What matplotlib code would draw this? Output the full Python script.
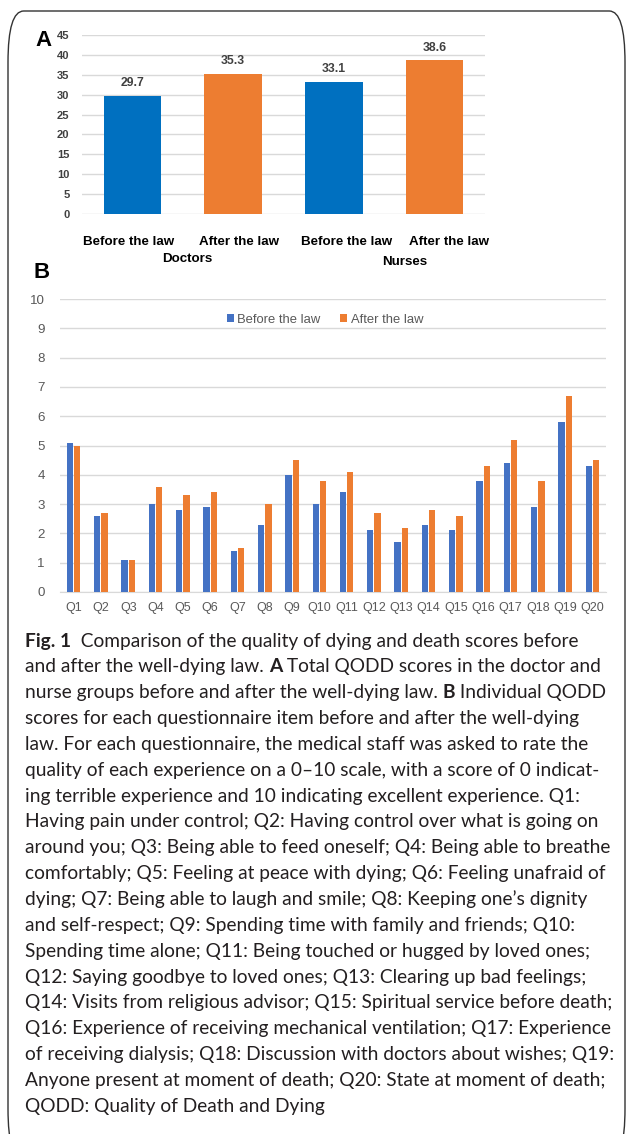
import matplotlib
matplotlib.use("Agg")
import matplotlib.pyplot as plt
import matplotlib.transforms as mtransforms
import numpy as np
from matplotlib.patches import FancyBboxPatch

# ---------------- data ----------------
a_labels = ["Before the law", "After the law", "Before the law", "After the law"]
a_groups = ["Doctors", "Nurses"]
a_values = [29.7, 35.3, 33.1, 38.6]
a_yticks = [0, 5, 10, 15, 20, 25, 30, 35, 40, 45]

b_items = [f"Q{i}" for i in range(1, 21)]
b_before = [5.1, 2.6, 1.1, 3.0, 2.8, 2.9, 1.4, 2.3, 4.0, 3.0,
            3.4, 2.1, 1.7, 2.3, 2.1, 3.8, 4.4, 2.9, 5.8, 4.3]
b_after = [5.0, 2.7, 1.1, 3.6, 3.3, 3.4, 1.5, 3.0, 4.5, 3.8,
           4.1, 2.7, 2.2, 2.8, 2.6, 4.3, 5.2, 3.8, 6.7, 4.5]
b_yticks = list(range(0, 11))
series_names = ["Before the law", "After the law"]

caption_lines = [
    [("Fig. 1", True), ("  Comparison of the quality of dying and death scores before", False)],
    [("and after the well-dying law. ", False), ("A", True), (" Total QODD scores in the doctor and", False)],
    [("nurse groups before and after the well-dying law. ", False), ("B", True), (" Individual QODD", False)],
    [("scores for each questionnaire item before and after the well-dying", False)],
    [("law. For each questionnaire, the medical staff was asked to rate the", False)],
    [("quality of each experience on a 0\u201310 scale, with a score of 0 indicat-", False)],
    [("ing terrible experience and 10 indicating excellent experience. Q1:", False)],
    [("Having pain under control; Q2: Having control over what is going on", False)],
    [("around you; Q3: Being able to feed oneself; Q4: Being able to breathe", False)],
    [("comfortably; Q5: Feeling at peace with dying; Q6: Feeling unafraid of", False)],
    [("dying; Q7: Being able to laugh and smile; Q8: Keeping one\u2019s dignity", False)],
    [("and self-respect; Q9: Spending time with family and friends; Q10:", False)],
    [("Spending time alone; Q11: Being touched or hugged by loved ones;", False)],
    [("Q12: Saying goodbye to loved ones; Q13: Clearing up bad feelings;", False)],
    [("Q14: Visits from religious advisor; Q15: Spiritual service before death;", False)],
    [("Q16: Experience of receiving mechanical ventilation; Q17: Experience", False)],
    [("of receiving dialysis; Q18: Discussion with doctors about wishes; Q19:", False)],
    [("Anyone present at moment of death; Q20: State at moment of death;", False)],
    [("QODD: Quality of Death and Dying", False)],
]

# ---------------- style ----------------
sans = "Liberation Sans"
cap_font = "Lato"

W, H = 627, 1134
fig = plt.figure(figsize=(W / 100, H / 100), dpi=100)


def fx(px):
    return px / W


def fy(py):
    return 1 - py / H


# border
border = FancyBboxPatch((fx(8), fy(1160)), fx(625) - fx(8), fy(11) - fy(1160),
                        boxstyle="round,pad=0,rounding_size=0.025",
                        transform=fig.transFigure, fill=False,
                        edgecolor="#333333", linewidth=1.0, mutation_aspect=H / W)
fig.patches.append(border)

grid_c = "#D9D9D9"

# ---------------- panel A ----------------
axA = fig.add_axes([fx(82), fy(214), fx(485) - fx(82), fy(35) - fy(214)])
xa = np.arange(len(a_values))
colsA = ["#0070C0", "#ED7D31", "#0070C0", "#ED7D31"]
axA.bar(xa, a_values, width=0.57, color=colsA, zorder=3)
axA.set_xlim(-0.5, len(a_values) - 0.5)
axA.set_ylim(0, 45)
axA.set_yticks(a_yticks)
axA.set_yticklabels([str(v) for v in a_yticks], fontfamily=sans, fontweight="bold",
                    fontsize=8, color="#404040")
axA.yaxis.grid(True, color=grid_c, linewidth=1, zorder=0)
axA.tick_params(axis="both", length=0)
axA.tick_params(axis="y", pad=9)
for s in axA.spines.values():
    s.set_visible(False)
axA.set_xticks([])
blend = mtransforms.blended_transform_factory(axA.transData, fig.transFigure)
label_dx = [-0.04, 0.06, 0.13, 0.14]
for x, lab, dx in zip(xa, a_labels, label_dx):
    axA.text(x + dx, fy(242), lab, transform=blend, ha="center", va="center",
             fontfamily=sans, fontweight="bold", fontsize=9.6, color="black")
for x, v in zip(xa, a_values):
    axA.annotate(f"{v}", (x, v), xytext=(0, 5), textcoords="offset points",
                 ha="center", va="bottom", fontfamily=sans, fontweight="bold",
                 fontsize=8.8, color="#404040")
group_y = [259, 262]
group_dx = [0.04, 0.2]
for gi, g in enumerate(a_groups):
    xc = (xa[2 * gi] + xa[2 * gi + 1]) / 2 + group_dx[gi]
    axA.text(xc, fy(group_y[gi]), g, transform=blend,
             ha="center", va="center", fontfamily=sans, fontweight="bold", fontsize=9.6)
fig.text(fx(44), fy(41), "A", ha="center", va="center", fontfamily=sans,
         fontweight="bold", fontsize=16)

# ---------------- panel B ----------------
axB = fig.add_axes([fx(60), fy(592), fx(606) - fx(60), fy(299) - fy(592)])
xb = np.arange(len(b_items))
bw = 0.23
axB.bar(xb - 0.135, b_before, width=bw, color="#4472C4", zorder=3, label=series_names[0])
axB.bar(xb + 0.135, b_after, width=bw, color="#ED7D31", zorder=3, label=series_names[1])
axB.set_xlim(-0.5, len(b_items) - 0.5)
axB.set_ylim(0, 10)
axB.set_yticks(b_yticks)
axB.set_yticklabels([str(v) for v in b_yticks], fontfamily=sans, fontsize=9.6, color="#595959")
axB.yaxis.grid(True, color=grid_c, linewidth=1, zorder=0)
axB.tick_params(axis="both", length=0)
axB.tick_params(axis="y", pad=11)
axB.tick_params(axis="x", pad=7)
for s in axB.spines.values():
    s.set_visible(False)
axB.spines["bottom"].set_visible(True)
axB.spines["bottom"].set_color(grid_c)
axB.set_xticks(xb)
axB.set_xticklabels(b_items, fontfamily=sans, fontsize=9.0, color="#595959")
leg = axB.legend(loc="center", bbox_to_anchor=(fx(325), fy(320)),
                 bbox_transform=fig.transFigure, ncol=2, frameon=False,
                 prop={"family": sans, "size": 9.4}, handlelength=0.55, handleheight=0.55,
                 handletextpad=0.25, columnspacing=1.5, borderaxespad=0, borderpad=0)
for t in leg.get_texts():
    t.set_color("#595959")
fig.text(fx(42), fy(273), "B", ha="center", va="center", fontfamily=sans,
         fontweight="bold", fontsize=16)

# ---------------- caption ----------------
renderer = fig.canvas.get_renderer()
x0 = fx(25)
y_first = 641
dy = 25.85
for i, segs in enumerate(caption_lines):
    y = fy(y_first + i * dy)
    x = x0
    for txt, bold in segs:
        t = fig.text(x, y, txt, ha="left", va="center", fontfamily=cap_font,
                     fontweight="bold" if bold else "normal", fontsize=13.75, color="#231F20")
        bb = t.get_window_extent(renderer=renderer)
        x += bb.width / W

fig.savefig("out.png", dpi=100)
